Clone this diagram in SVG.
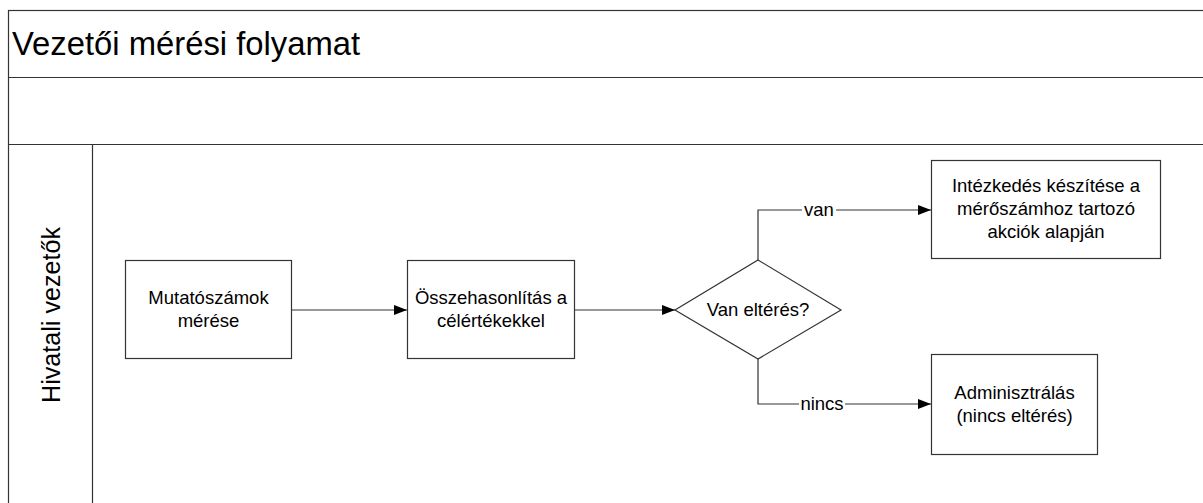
<svg xmlns="http://www.w3.org/2000/svg" width="1203" height="503" viewBox="0 0 1203 503">
<style>
.ln{fill:none;stroke:#333;stroke-width:1.2}
.box{fill:#fff;stroke:#333;stroke-width:1.2}
.t{font-family:"Liberation Sans",Arial,sans-serif;font-size:18.5px;fill:#000;text-anchor:middle}
.lbl{font-family:"Liberation Sans",Arial,sans-serif;font-size:18.5px;fill:#000;text-anchor:middle}
</style>
<defs>
<marker id="ah" viewBox="0 0 13 10" refX="13" refY="5" markerWidth="13" markerHeight="10" markerUnits="userSpaceOnUse" orient="auto">
<path d="M0,0 L13,5 L0,10 Z" fill="#000"/>
</marker>
</defs>
<rect width="1203" height="503" fill="#fff"/>
<g id="pool">
<rect class="ln" x="8.5" y="10.5" width="1210" height="510"/>
<line class="ln" x1="8.5" y1="77.5" x2="1210" y2="77.5"/>
<line class="ln" x1="8.5" y1="144.5" x2="1210" y2="144.5"/>
<line class="ln" x1="92.5" y1="144.5" x2="92.5" y2="520"/>
<text x="12" y="55" font-family="'Liberation Sans',Arial,sans-serif" font-size="32.8" fill="#000">Vezetői mérési folyamat</text>
<text transform="translate(59.5,315) rotate(-90)" font-family="'Liberation Sans',Arial,sans-serif" font-size="26.5" fill="#000" text-anchor="middle" textLength="176" lengthAdjust="spacingAndGlyphs">Hivatali vezetők</text>
</g>
<g id="connectors">
<line class="ln" x1="292" y1="310" x2="407" y2="310" marker-end="url(#ah)"/>
<line class="ln" x1="575" y1="310" x2="675" y2="310" marker-end="url(#ah)"/>
<polyline class="ln" points="758,260 758,210 931,210" marker-end="url(#ah)"/>
<polyline class="ln" points="758,359 758,404 931,404" marker-end="url(#ah)"/>
<rect x="802" y="200" width="34" height="20" fill="#fff"/>
<text class="lbl" x="819" y="216">van</text>
<rect x="799" y="394" width="46" height="20" fill="#fff"/>
<text class="lbl" x="822" y="410">nincs</text>
</g>
<g id="n1">
<rect class="box" x="125.5" y="260.5" width="166" height="98"/>
<text class="t" x="208.5" y="304">Mutatószámok</text>
<text class="t" x="208.5" y="327">mérése</text>
</g>
<g id="n2">
<rect class="box" x="407.5" y="260.5" width="167" height="98"/>
<text class="t" x="491" y="304">Összehasonlítás a</text>
<text class="t" x="491" y="327">célértékekkel</text>
</g>
<g id="n3">
<polygon class="box" points="758,260 841,310 758,359 675,310"/>
<text class="t" x="758" y="316">Van eltérés?</text>
</g>
<g id="n4">
<rect class="box" x="931.5" y="160.5" width="229" height="98"/>
<text class="t" x="1046" y="192">Intézkedés készítése a</text>
<text class="t" x="1046" y="215">mérőszámhoz tartozó</text>
<text class="t" x="1046" y="238">akciók alapján</text>
</g>
<g id="n5">
<rect class="box" x="931.5" y="354.5" width="166" height="100"/>
<text class="t" x="1014.5" y="399">Adminisztrálás</text>
<text class="t" x="1014.5" y="422">(nincs eltérés)</text>
</g>
</svg>
